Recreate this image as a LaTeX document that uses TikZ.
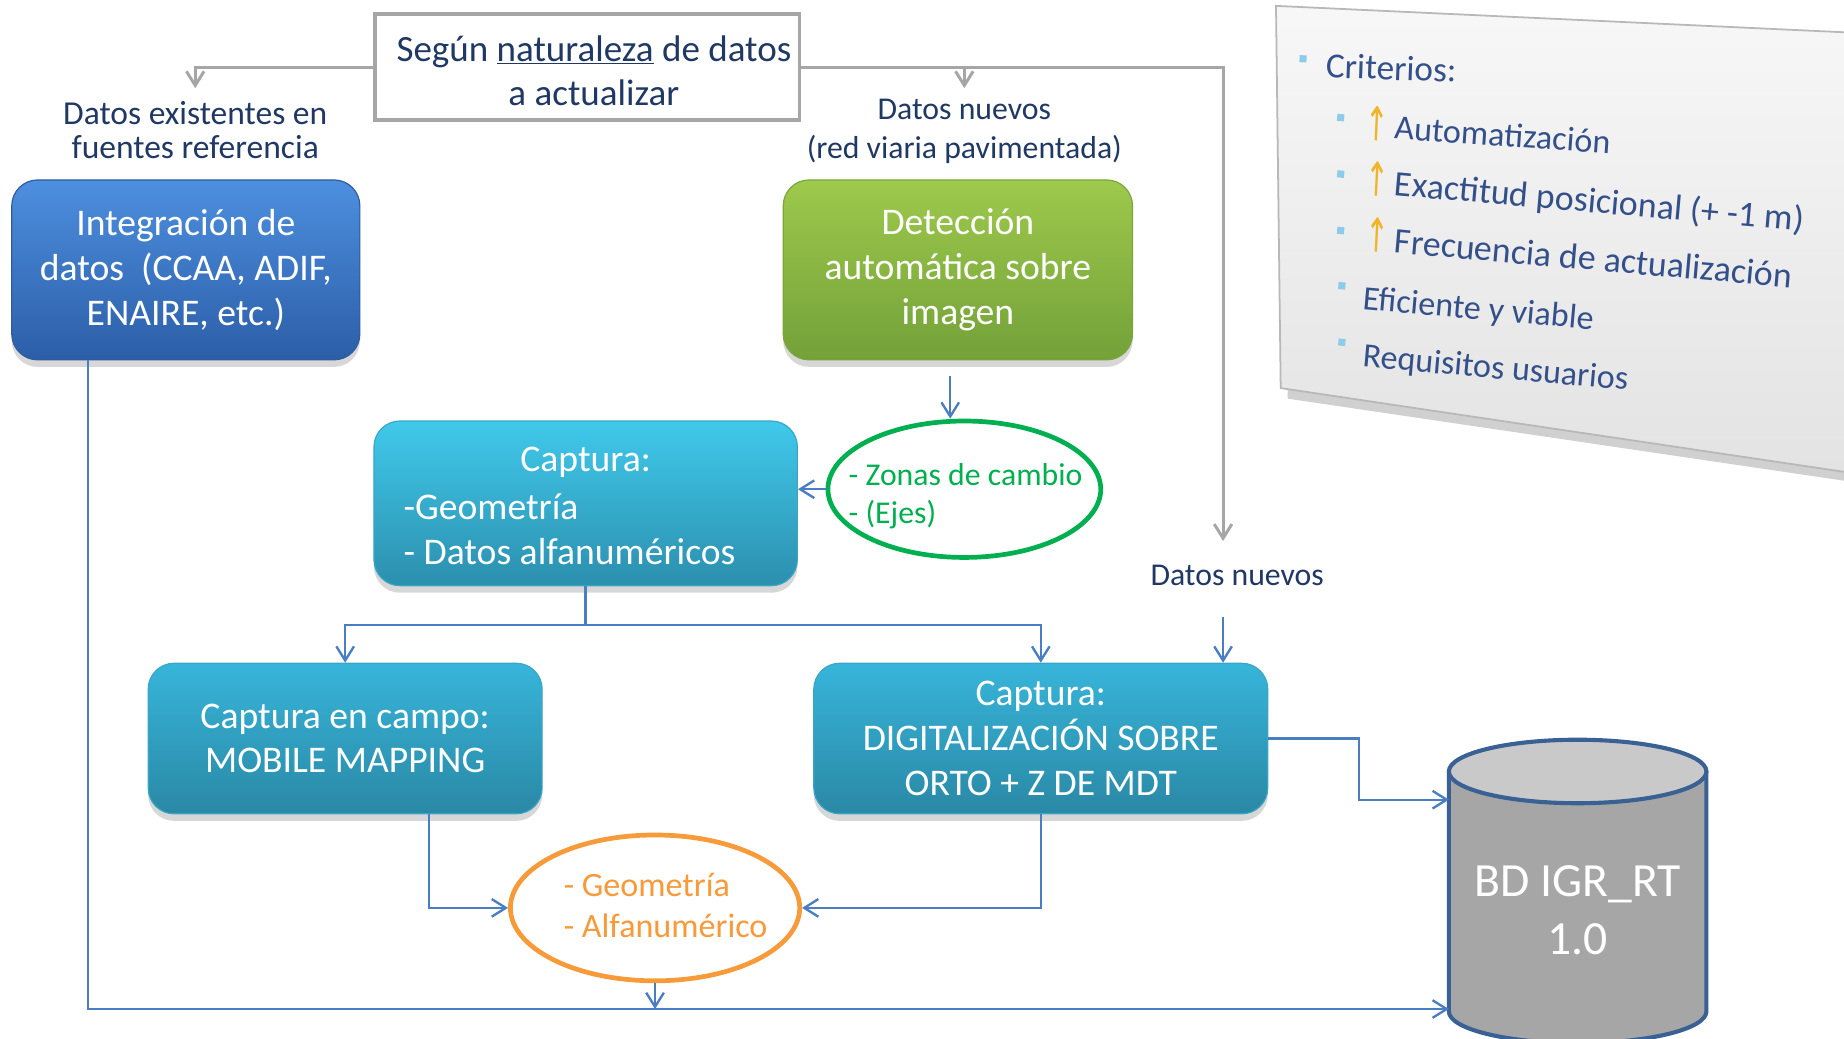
\documentclass[tikz,border=0pt]{standalone}
\usepackage{fontspec}
\setmainfont{Carlito}
\newfontfamily\symf{DejaVu Sans}
\usetikzlibrary{arrows.meta,shadows,shapes.geometric}
\definecolor{navy}{HTML}{203864}
\definecolor{cblue}{HTML}{4A7EC4}
\definecolor{cgray}{HTML}{A6A6A6}
\definecolor{btop}{HTML}{4D8FDF}
\definecolor{bbot}{HTML}{2C5EA8}
\definecolor{bbord}{HTML}{2F5C9E}
\definecolor{gtop}{HTML}{9DC94C}
\definecolor{gbot}{HTML}{74A139}
\definecolor{gbord}{HTML}{7AA63C}
\definecolor{c1top}{HTML}{40C9EB}
\definecolor{c1bot}{HTML}{2C8FAE}
\definecolor{c2top}{HTML}{37B5DA}
\definecolor{c2bot}{HTML}{2A88A5}
\definecolor{cbord}{HTML}{3AA6C6}
\definecolor{zgreen}{HTML}{00B050}
\definecolor{orng}{HTML}{F79A3A}
\definecolor{dbline}{HTML}{3A6193}
\definecolor{dbbody}{HTML}{A6A6A6}
\definecolor{dbtop}{HTML}{C9C9C9}
\definecolor{ptext}{HTML}{34508A}
\definecolor{pbull}{HTML}{8DCBEA}
\definecolor{gold}{HTML}{F0B428}
\newcommand\myfs[2]{\fontsize{#1}{#2}\selectfont}
\begin{document}
\begin{tikzpicture}[x=1pt,y=-1pt,
  every node/.style={inner sep=0pt},
  box/.style={rectangle, rounded corners=22pt, text=white, align=center,
    font=\myfs{32}{38}, line width=1pt,
    drop shadow={shadow xshift=0pt, shadow yshift=-6pt, opacity=.22, fill=black!70}},
  bluebox/.style={box, top color=btop, bottom color=bbot, draw=bbord},
  greenbox/.style={box, top color=gtop, bottom color=gbot, draw=gbord},
  cyanA/.style={box, top color=c1top, bottom color=c1bot, draw=cbord},
  cyanB/.style={box, top color=c2top, bottom color=c2bot, draw=cbord},
  wtxt/.style={text=white, font=\myfs{32}{38}},
  ntxt/.style={text=navy, align=center},
  conn/.style={draw=cblue, line width=2pt, -{Straight Barb[length=12pt,width=15pt]}},
  gconn/.style={draw=cgray, line width=2.5pt, -{Straight Barb[length=12pt,width=15pt]}},
  pbul/.style={fill=pbull, minimum size=6pt},
  ptxt/.style={text=ptext, font=\myfs{29}{34}, anchor=base west},
  parr/.style={text=gold, font=\symf\myfs{40}{40}, xscale=.6}]
\useasboundingbox (0,0) rectangle (1568,883);
\clip (0,0) rectangle (1568,883);
\fill[white] (0,0) rectangle (1568,883);

% ---- criteria panel ----
\fill[black!30, opacity=.6] (1091,12) -- (1590,36) -- (1590,412) -- (1095,339) -- cycle;
\path[draw=black!28, line width=1.5pt, top color=black!3, bottom color=black!11]
  (1085,5) -- (1580,28) -- (1580,403) -- (1089,330) -- cycle;
\node[pbul, rotate=-3] (b0) at (1108,50) {};
\node[ptxt, rotate=-2, font=\myfs{30}{34}] (crit) at (1127,66) {Criterios:};
\node[pbul, rotate=-4] (b1) at (1140,100) {};
\node[parr, rotate=-4] (a1) at (1171,105) {↑};
\node[ptxt, rotate=-4] (t1) at (1185,118) {Automatización};
\node[pbul, rotate=-5] (b2) at (1140,148) {};
\node[parr, rotate=-5] (a2) at (1171,152) {↑};
\node[ptxt, rotate=-5, font=\myfs{30.5}{34}] (t2) at (1185,166) {Exactitud posicional (+ -1 m)};
\node[pbul, rotate=-5] (b3) at (1140,196) {};
\node[parr, rotate=-5] (a3) at (1171,200) {↑};
\node[ptxt, rotate=-5, font=\myfs{30.5}{34}] (t3) at (1185,215) {Frecuencia de actualización};
\node[pbul, rotate=-5] (b4) at (1141,243) {};
\node[ptxt, rotate=-5] (t4) at (1158,263) {Eficiente y viable};
\node[pbul, rotate=-5] (b5) at (1141,291) {};
\node[ptxt, rotate=-5] (t5) at (1158,312) {Requisitos usuarios};

% ---- database cylinder ----
\draw[dbline, line width=3.5pt, fill=dbbody]
  (1232,656) -- (1232,860) arc[start angle=180, end angle=360, x radius=109.5pt, y radius=27pt]
  -- (1451,656);
\draw[dbline, line width=3.5pt, fill=dbtop] (1341.5,656) ellipse [x radius=109.5pt, y radius=27pt];
\node[text=white, font=\myfs{40.5}{49}, align=center] (db) at (1341.5,774) {BD IGR\_RT\\1.0};
\coordinate (dbA) at (1232,680);
\coordinate (dbB) at (1232,858);

% ---- main nodes ----
\node[draw=cgray, line width=3pt, fill=white, minimum width=361pt, minimum height=90pt] (top) at (499.5,57) {};
\node[text=navy, align=center, font=\myfs{31.5}{37}] (toptxt) at (505,60)
  {Según \underline{naturaleza} de datos\\a actualizar};

\node[ntxt, font=\myfs{28.5}{29}] (lblex) at (166,111) {Datos existentes en\\fuentes referencia};
\node[ntxt, font=\myfs{27}{33}] (lblnew) at (820,112) {Datos nuevos\\(red viaria pavimentada)};
\node[ntxt, font=\myfs{27}{30}] (lbldn) at (1052,489) {Datos nuevos};

\node[bluebox, minimum width=296pt, minimum height=153pt] (int) at (158,229.5)
  {Integración de\\datos\ \ (CCAA, ADIF,\\ENAIRE, etc.)};
\node[greenbox, minimum width=297pt, minimum height=153pt] (det) at (814.5,229.5)
  {Detección\\automática sobre\\imagen};

\node[cyanA, minimum width=360pt, minimum height=140pt] (cap) at (498,428) {};
\node[wtxt] (capt1) at (498,393) {Captura:};
\node[wtxt, anchor=west, align=left] (capt2) at (343,450) {-Geometría\\- Datos alfanuméricos};

\node[ellipse, draw=zgreen, line width=4pt, fill=white, minimum width=232pt, minimum height=116pt] (zon) at (820,416) {};
\node[text=zgreen, align=left, font=\myfs{27}{33}] (zontxt) at (821,422) {- Zonas de cambio\\- (Ejes)};

\node[cyanB, minimum width=335pt, minimum height=128pt] (mob) at (293.5,628)
  {Captura en campo:\\MOBILE MAPPING};
\node[cyanB, minimum width=386pt, minimum height=128pt] (dig) at (885,628)
  {Captura:\\DIGITALIZACIÓN SOBRE\\ORTO + Z DE MDT};

\node[ellipse, draw=orng, line width=4pt, fill=white, minimum width=246pt, minimum height=124pt] (geo) at (557,772) {};
\node[text=orng, align=left, font=\myfs{29}{35}] (geotxt) at (566,770) {- Geometría\\- Alfanumérico};

% ---- coordinates for free ends ----
\coordinate (tipA) at (166,75);
\coordinate (tipB) at (820,75);
\coordinate (tipC) at (1040,460);
\coordinate (dnstart) at (1040,525);
\coordinate (detout) at (808,320);

% ---- gray connectors ----
\draw[gconn] (top.west) -| (tipA);
\draw[gconn] (top.east) -| (tipC);
\draw[gconn] (top.east -| tipB) -- (tipB);

% ---- blue connectors ----
\draw[conn] (detout) -- (detout |- zon.north);
\draw[conn] (zon.west) -- (zon.west -| cap.east);
\draw[conn] (cap.south) -- ++(0,33) -| (mob.north);
\draw[conn] (cap.south) ++(0,33) -| (dig.north);
\draw[conn] (dnstart) -- (dnstart |- dig.north);
\draw[conn] ([xshift=71.5pt]mob.south) |- (geo.west);
\draw[conn] (dig.south) |- (geo.east);
\draw[conn] (geo.south) -- (geo.south |- dbB);
\draw[conn] ([xshift=-83pt]int.south) |- (dbB);
\draw[conn] (dig.east) -- ++(77,0) |- (dbA);
\end{tikzpicture}
\end{document}
